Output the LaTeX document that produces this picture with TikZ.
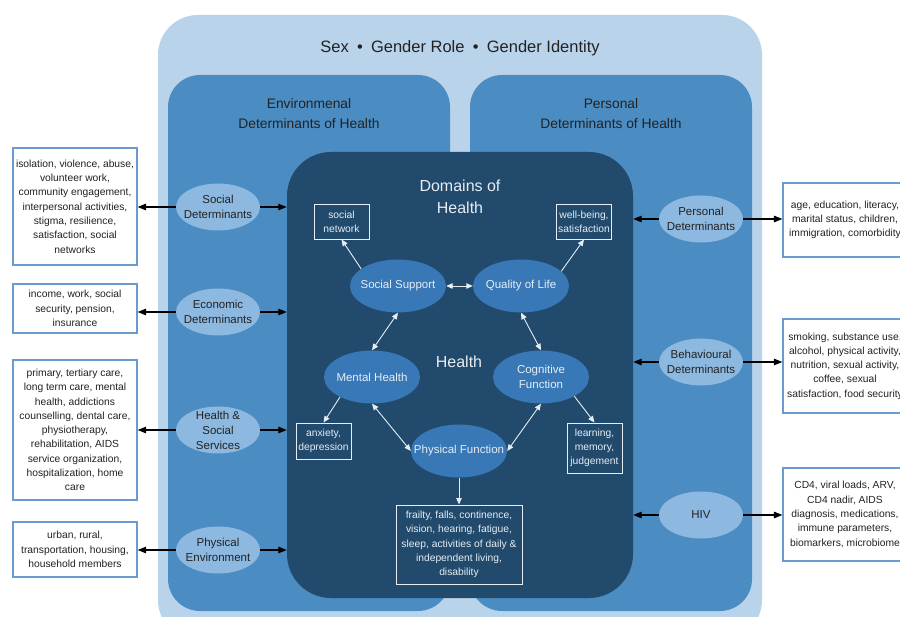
\documentclass[tikz,border=0pt]{standalone}
\usepackage{fontspec}
\setmainfont{Liberation Sans}
\usetikzlibrary{arrows.meta,shapes.geometric}

\definecolor{outerblue}{HTML}{B9D4EA}
\definecolor{panelblue}{HTML}{4B8CC2}
\definecolor{domainblue}{HTML}{214A6D}
\definecolor{detblue}{HTML}{8DB9E1}
\definecolor{healthblue}{HTML}{3878B6}
\definecolor{boxline}{HTML}{6A9AD0}
\definecolor{inktext}{HTML}{222222}
\definecolor{paleline}{HTML}{E6EDF3}

\tikzset{%
  panel/.style={
    rounded corners=32pt,
    fill=panelblue,
    minimum width=282pt,
    minimum height=536pt,
    inner sep=0pt
  },
  determinant/.style={
    ellipse,
    fill=detblue,
    minimum width=84pt,
    minimum height=47pt,
    inner sep=0pt
  },
  determinant text/.style={
    align=center,
    text=inktext,
    font=\fontsize{11.5}{15}\selectfont
  },
  info box/.style={
    draw=boxline,
    line width=1.2pt,
    fill=white,
    minimum width=124pt,
    align=center,
    text=inktext,
    font=\fontsize{10.3}{14.3}\selectfont,
    inner sep=2pt
  },
  health domain/.style={
    ellipse,
    fill=healthblue,
    minimum width=96pt,
    minimum height=53pt,
    inner sep=0pt
  },
  health text/.style={
    align=center,
    text=paleline,
    font=\fontsize{11.5}{15}\selectfont
  },
  health note/.style={
    draw=paleline,
    line width=0.9pt,
    align=center,
    text=paleline,
    font=\fontsize{10.3}{14.3}\selectfont,
    inner sep=1.5pt
  },
  det arrow/.style={
    -{Triangle[length=8.5pt,width=6.5pt]},
    line width=1.1pt
  },
  health arrow/.style={
    -{Triangle[length=6.5pt,width=5.5pt]},
    line width=0.9pt,
    paleline
  },
  health link/.style={
    {Triangle[length=6.5pt,width=5.5pt]}-{Triangle[length=6.5pt,width=5.5pt]},
    line width=0.9pt,
    paleline
  },
}

\begin{document}
\begin{tikzpicture}[x=1pt,y=-1pt]
\useasboundingbox (0,0) rectangle (900,617);
\fill[white] (0,0) rectangle (900,617);
\clip (0,0) rectangle (900,617);

\node [rounded corners=40pt, fill=outerblue, minimum width=604pt,
  minimum height=625pt, inner sep=0pt] (outer) at (460,327.5) {};
\node [text=inktext, font=\fontsize{16.5}{20}\selectfont] (sex-gender) at (460,48)
  {Sex\hspace{0.5em}•\hspace{0.5em}Gender Role\hspace{0.5em}•\hspace{0.5em}Gender Identity};

\node [panel] (env-panel) at (309,343) {};
\node [panel] (per-panel) at (611,343) {};
\node [align=center, text=inktext, font=\fontsize{13.8}{20}\selectfont] at (309,114)
  {Environmenal\\Determinants of Health};
\node [align=center, text=inktext, font=\fontsize{13.8}{20}\selectfont] at (611,114)
  {Personal\\Determinants of Health};

\node [rounded corners=44pt, fill=domainblue, minimum width=346pt,
  minimum height=446pt, inner sep=0pt] (domains) at (460,375) {};
\node [align=center, text=paleline, font=\fontsize{16}{22}\selectfont] at (460,197)
  {Domains of\\Health};
\node [text=paleline, font=\fontsize{16}{20}\selectfont] at (459,362) {Health};

\foreach \t/\y [count=\i] in {{Social\\Determinants}/207, {Economic\\Determinants}/312,
    {Health \&\\Social\\Services}/430, {Physical\\Environment}/550}
{
  \node [determinant] (env-\i) at (218,\y) {};
  \node [determinant text] at (env-\i) {\t};
}

\foreach \t/\y [count=\i] in {{Personal\\Determinants}/219, {Behavioural\\Determinants}/362,
    {HIV}/515}
{
  \node [determinant] (per-\i) at (701,\y) {};
  \node [determinant text] at (per-\i) {\t};
}

\node [info box, minimum height=117pt] (env-info-1) at (75,206.5)
  {isolation, violence, abuse,\\volunteer work,\\community engagement,\\interpersonal activities,\\stigma, resilience,\\satisfaction, social\\networks};
\node [info box, minimum height=49pt] (env-info-2) at (75,308.5)
  {income, work, social\\security, pension,\\insurance};
\node [info box, minimum height=140pt] (env-info-3) at (75,430)
  {primary, tertiary care,\\long term care, mental\\health, addictions\\counselling, dental care,\\physiotherapy,\\rehabilitation, AIDS\\service organization,\\hospitalization, home\\care};
\node [info box, minimum height=55pt] (env-info-4) at (75,549.5)
  {urban, rural,\\transportation, housing,\\household members};

\node [info box, minimum height=74pt] (per-info-1) at (845,220)
  {age, education, literacy,\\marital status, children,\\immigration, comorbidity};
\node [info box, minimum height=94pt] (per-info-2) at (845,366)
  {smoking, substance use,\\alcohol, physical activity,\\nutrition, sexual activity,\\coffee, sexual\\satisfaction, food security};
\node [info box, minimum height=93pt] (per-info-3) at (845,514.5)
  {CD4, viral loads, ARV,\\CD4 nadir, AIDS\\diagnosis, medications,\\immune parameters,\\biomarkers, microbiome};

\foreach \i in {1,...,4}
{
  \draw [det arrow] (env-\i.west) -- (env-info-\i.east |- env-\i.west);
  \draw [det arrow] (env-\i.east) -- (domains.west |- env-\i.east);
}

\foreach \i in {1,2,3}
{
  \draw [det arrow] (per-\i.east) -- (per-info-\i.west |- per-\i.east);
  \draw [det arrow] (per-\i.west) -- (domains.east |- per-\i.west);
}

\foreach \n/\t/\x/\y in {ss/{Social Support}/398/286, qol/{Quality of Life}/521/286,
    mh/{Mental Health}/372/377, cf/{Cognitive\\Function}/541/377,
    pf/{Physical Function}/459/451}
{
  \node [health domain] (\n) at (\x,\y) {};
  \node [health text] at (\n) {\t};
}

\node [health note, minimum width=55pt, minimum height=35pt] (net) at (341.5,221.5)
  {social\\network};
\node [health note, minimum width=54pt, minimum height=35pt] (wb) at (584,221.5)
  {well-being,\\satisfaction};
\node [health note, minimum width=55pt, minimum height=36pt] (anx) at (323.5,441)
  {anxiety,\\depression};
\node [health note, minimum width=55pt, minimum height=50pt] (learn) at (594.5,448)
  {learning,\\memory,\\judgement};
\node [health note, minimum width=126pt, minimum height=79pt] (frail) at (459,544.5)
  {frailty, falls, continence,\\vision, hearing, fatigue,\\sleep, activities of daily \&\\independent living,\\disability};

\draw [health arrow] (ss.155) -- (net.south);
\draw [health arrow] (qol.20) -- (wb.south);
\draw [health link] (ss.east) -- (qol.west);
\draw [health link] (ss.south) -- (mh.north);
\draw [health link] (qol.south) -- (cf.north);
\draw [health arrow] (mh.212) -- (anx.north);
\draw [health link] (mh.south) -- (pf.west);
\draw [health link] (cf.south) -- (pf.east);
\draw [health arrow] (cf.330) -- (learn.north);
\draw [health arrow] (pf.south) -- (frail.north);

\end{tikzpicture}
\end{document}
